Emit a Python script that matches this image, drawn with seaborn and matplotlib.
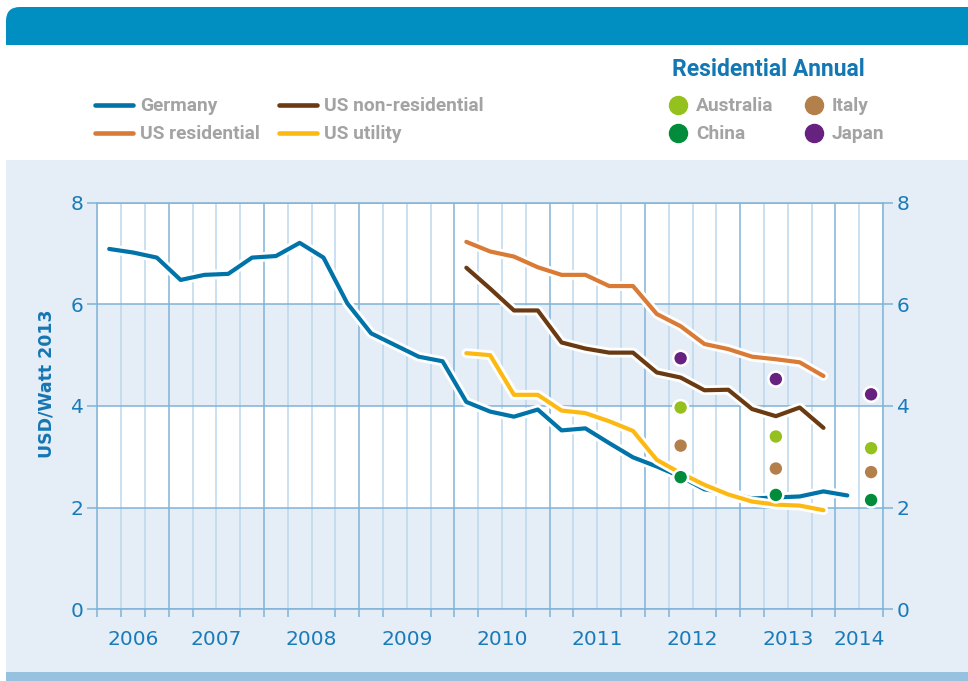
import numpy as np
import pandas as pd
import matplotlib
matplotlib.use("Agg")
import matplotlib.pyplot as plt
import seaborn as sns
from matplotlib import patheffects as pe
from matplotlib.patches import FancyBboxPatch, Rectangle
from matplotlib.lines import Line2D

# ---------------- data ----------------
germany_quarters = pd.period_range("2006Q2", "2014Q1", freq="Q")
germany = [7.09, 7.02, 6.92, 6.48, 6.58, 6.60, 6.92, 6.95, 7.21, 6.92, 6.02,
           5.43, 5.20, 4.97, 4.88, 4.08, 3.89, 3.79, 3.93, 3.52, 3.56, 3.27,
           2.99, 2.81, 2.61, 2.36, 2.29, 2.18, 2.20, 2.22, 2.32, 2.24]

us_quarters = pd.period_range("2010Q1", "2013Q4", freq="Q")
us_residential = [7.23, 7.04, 6.94, 6.73, 6.58, 6.58, 6.36, 6.36,
                  5.81, 5.57, 5.22, 5.12, 4.97, 4.92, 4.86, 4.59]
us_nonresidential = [6.72, 6.31, 5.88, 5.88, 5.25, 5.13, 5.05, 5.05,
                     4.66, 4.56, 4.31, 4.32, 3.94, 3.80, 3.97, 3.57]
us_utility = [5.04, 5.00, 4.22, 4.22, 3.91, 3.86, 3.70, 3.51,
              2.94, 2.68, 2.45, 2.26, 2.12, 2.06, 2.04, 1.95]

annual_years = [2012, 2013, 2014]
australia = [3.97, 3.40, 3.17]
italy = [3.22, 2.77, 2.70]
china = [2.60, 2.25, 2.15]
japan = [4.94, 4.53, 4.23]

year_labels = ["2006", "2007", "2008", "2009", "2010", "2011", "2012", "2013", "2014"]
yticks = [0, 2, 4, 6, 8]

line_series = ["Germany", "US residential", "US non-residential", "US utility"]
line_colors = {"Germany": "#0073A9", "US residential": "#D97B36",
               "US non-residential": "#6A3B12", "US utility": "#FDB913"}
dot_series = ["Australia", "Italy", "China", "Japan"]
dot_colors = {"Australia": "#95C11F", "Italy": "#B3804C",
              "China": "#008C3A", "Japan": "#67227F"}

# ---------------- frames ----------------
def qmid(p):
    return p.year + (p.quarter - 1) * 0.25 + 0.125

rows = []
for name, qs, vals in [("Germany", germany_quarters, germany),
                       ("US residential", us_quarters, us_residential),
                       ("US non-residential", us_quarters, us_nonresidential),
                       ("US utility", us_quarters, us_utility)]:
    for q, v in zip(qs, vals):
        rows.append({"series": name, "x": qmid(q), "value": v})
df_lines = pd.DataFrame(rows)

drows = []
for name, vals in [("Australia", australia), ("Italy", italy),
                   ("China", china), ("Japan", japan)]:
    for y, v in zip(annual_years, vals):
        drows.append({"country": name, "x": y + 0.375, "value": v})
df_dots = pd.DataFrame(drows)

# ---------------- figure ----------------
sns.set_theme(style="white")
plt.rcParams["font.family"] = ["DejaVu Sans"]

W, H = 968, 681
fig = plt.figure(figsize=(W / 100, H / 100), dpi=100)
fig.patch.set_facecolor("white")

def fx(x):
    return x / W

def fy(y):
    return 1 - y / H

PANEL = "#E5EEF7"
# panel background
fig.add_artist(Rectangle((fx(6), fy(672)), (W - 6) / W, (672 - 160) / H,
                         transform=fig.transFigure, facecolor=PANEL,
                         edgecolor="none", zorder=-10))
fig.add_artist(Rectangle((fx(6), 0), (W - 6) / W, (H - 672) / H,
                         transform=fig.transFigure, facecolor="#96C2E0",
                         edgecolor="none", zorder=-10))
# header bar (display coords)
fig.add_artist(FancyBboxPatch((6, H - 45), W + 20, 38,
                              boxstyle="round,pad=0,rounding_size=14",
                              transform=None, facecolor="#008FC0",
                              edgecolor="none", zorder=-9))
fig.add_artist(Rectangle((6, H - 45), W, 20, transform=None,
                         facecolor="#008FC0", edgecolor="none", zorder=-9))

ax = fig.add_axes([fx(97.3), fy(609.3), (883 - 97.3) / W, (609.3 - 202.7) / H])
ax.set_facecolor("white")
ax.set_zorder(2)

# bands
ax.axhspan(0, 2, color=PANEL, zorder=0, lw=0)
ax.axhspan(4, 6, color=PANEL, zorder=0, lw=0)

GRID_DARK = "#80B3D8"
GRID_LIGHT = "#BCD7EC"
quarter_edges = np.arange(2006.25, 2014.51, 0.25)
for q in quarter_edges:
    is_year = abs(q - round(q)) < 1e-9
    ax.axvline(q, color=GRID_DARK if is_year else GRID_LIGHT, lw=1.1, zorder=1)
for yv in yticks:
    ax.axhline(yv, color=GRID_DARK, lw=1.1, zorder=1)

n_before = len(ax.lines)
sns.lineplot(data=df_lines, x="x", y="value", hue="series", hue_order=line_series,
             palette=line_colors, estimator=None, sort=False, lw=3.0,
             legend=False, ax=ax, zorder=3)
for ln in ax.lines[n_before:]:
    ln.set_path_effects([pe.Stroke(linewidth=7.0, foreground="white"), pe.Normal()])
    ln.set_solid_joinstyle("round")
    ln.set_solid_capstyle("round")

sns.scatterplot(data=df_dots, x="x", y="value", hue="country", hue_order=dot_series,
                palette=dot_colors, s=115, edgecolor="white", linewidth=1.8,
                legend=False, ax=ax, zorder=5)

ax.set_xlim(2006.25, 2014.5)
ax.set_ylim(0, 8)
ax.set_xlabel("")
ax.set_ylabel("")

TICK_COLOR = "#1A7BB9"
year_pos = [2006.625] + [y + 0.5 for y in range(2007, 2014)] + [2014.25]
ax.set_xticks(year_pos)
ax.set_xticklabels(year_labels)
ax.set_xticks(quarter_edges, minor=True)
ax.tick_params(axis="x", which="major", length=0, pad=15, labelsize=14.5,
               labelcolor=TICK_COLOR)
ax.tick_params(axis="x", which="minor", length=5.5, width=1.1, color=GRID_DARK,
               bottom=True, direction="out")
ax.set_yticks(yticks)
ax.set_yticklabels([str(v) for v in yticks])
ax.tick_params(axis="y", which="major", length=7, width=1.1, color=GRID_DARK,
               left=True, right=True, labelleft=True, labelright=True,
               pad=3, labelsize=14.5, labelcolor=TICK_COLOR, direction="out")
for s in ax.spines.values():
    s.set_color(GRID_DARK)
    s.set_linewidth(1.1)
    s.set_zorder(1)

fig.text(fx(47), fy(384), "USD/Watt 2013", rotation=90, ha="center", va="center",
         fontsize=12.5, fontweight="bold", color="#1576B3")

# ---------------- legends ----------------
LEG_TXT = "#A3A3A3"
leg_font = ["Roboto", "DejaVu Sans"]
legend_lines = [("Germany", 95, 105), ("US non-residential", 279, 105),
                ("US residential", 95, 133), ("US utility", 279, 133)]
for name, x0, yy in legend_lines:
    fig.add_artist(Line2D([fx(x0), fx(x0 + 38)], [fy(yy), fy(yy)],
                          transform=fig.transFigure, color=line_colors[name],
                          lw=3.3, solid_capstyle="round"))
    fig.text(fx(x0 + 45), fy(yy + 1), name, ha="left", va="center", fontsize=13.8,
             fontweight="bold", color=LEG_TXT, family=leg_font)

fig.text(fx(672), fy(70), "Residential Annual", ha="left", va="center",
         fontsize=16.5, fontweight="bold", color="#1377B3", family=leg_font)
legend_dots = [("Australia", 678, 105), ("Italy", 814, 105),
               ("China", 678, 133), ("Japan", 814, 133)]
for name, x0, yy in legend_dots:
    fig.add_artist(Line2D([fx(x0)], [fy(yy)], transform=fig.transFigure,
                          marker="o", ms=13, color=dot_colors[name], lw=0))
    fig.text(fx(x0 + 18), fy(yy + 1), name, ha="left", va="center", fontsize=13.8,
             fontweight="bold", color=LEG_TXT, family=leg_font)

fig.savefig("out.png", dpi=100)
